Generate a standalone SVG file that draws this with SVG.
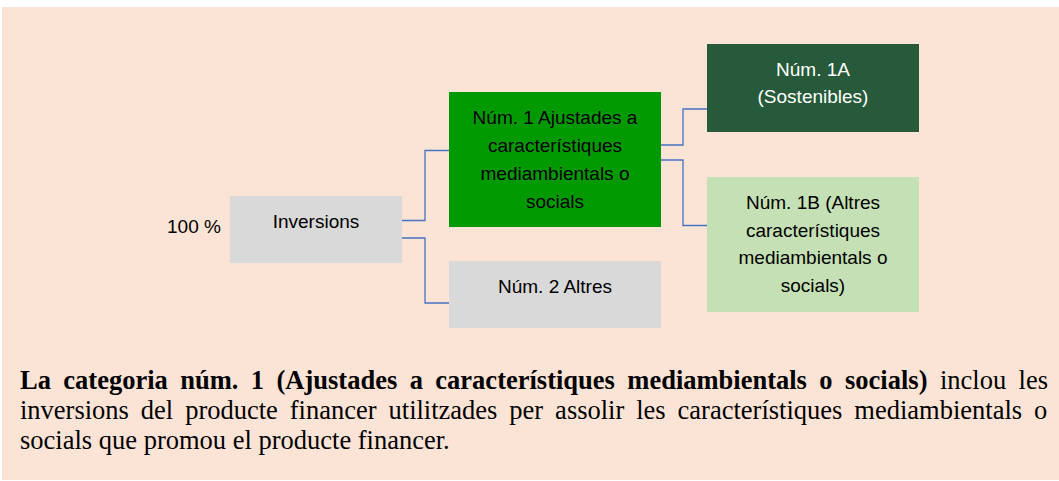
<svg xmlns="http://www.w3.org/2000/svg" width="1059" height="481" viewBox="0 0 1059 481">
<style>
.bx{font-family:"Liberation Sans",Arial,sans-serif;font-size:19px;fill:#000;text-anchor:middle}
.wt{fill:#fff}
.cn{fill:none;stroke:#4472C4;stroke-width:1.3}
.pg{font-family:"Liberation Serif","Times New Roman",serif;font-size:26.5px;fill:#000}
.b{font-weight:bold}
</style>
<rect x="0" y="0" width="1059" height="481" fill="#ffffff"/>
<rect x="2" y="7" width="1057" height="473" fill="#FBE4D5"/>
<g id="connectors">
<polyline class="cn" points="401,220.5 425,220.5 425,150.5 449,150.5"/>
<polyline class="cn" points="401,238 425,238 425,303 449,303"/>
<polyline class="cn" points="661,145 683,145 683,109 707,109"/>
<polyline class="cn" points="661,160 683,160 683,225.5 707,225.5"/>
</g>
<g id="label-100">
<text x="167" y="233" style="font-family:'Liberation Sans',Arial,sans-serif;font-size:19px">100 %</text>
</g>
<g id="inversions">
<rect x="230" y="196" width="172" height="67" fill="#D9D9D9"/>
<text class="bx" x="316" y="228">Inversions</text>
</g>
<g id="num1">
<rect x="449" y="92" width="212" height="135" fill="#009900"/>
<text class="bx" x="555" y="124">Núm. 1 Ajustades a</text>
<text class="bx" x="555" y="152">característiques</text>
<text class="bx" x="555" y="180">mediambientals o</text>
<text class="bx" x="555" y="207.5">socials</text>
</g>
<g id="num2">
<rect x="449" y="261" width="212" height="67" fill="#D9D9D9"/>
<text class="bx" x="555" y="293">Núm. 2 Altres</text>
</g>
<g id="num1a">
<rect x="707" y="44" width="212" height="88" fill="#265A3A"/>
<text class="bx wt" x="813" y="76">Núm. 1A</text>
<text class="bx wt" x="813" y="103">(Sostenibles)</text>
</g>
<g id="num1b">
<rect x="707" y="177" width="212" height="135" fill="#C5E0B4"/>
<text class="bx" x="813" y="209">Núm. 1B (Altres</text>
<text class="bx" x="813" y="236.5">característiques</text>
<text class="bx" x="813" y="264">mediambientals o</text>
<text class="bx" x="813" y="291.5">socials)</text>
</g>
<g id="caption">
<text class="pg" x="20" y="389" word-spacing="5.8"><tspan class="b">La categoria núm. 1 (Ajustades a característiques mediambientals o socials)</tspan> inclou les</text>
<text class="pg" x="20" y="419" word-spacing="5.3">inversions del producte financer utilitzades per assolir les característiques mediambientals o</text>
<text class="pg" x="20" y="449">socials que promou el producte financer.</text>
</g>
</svg>
